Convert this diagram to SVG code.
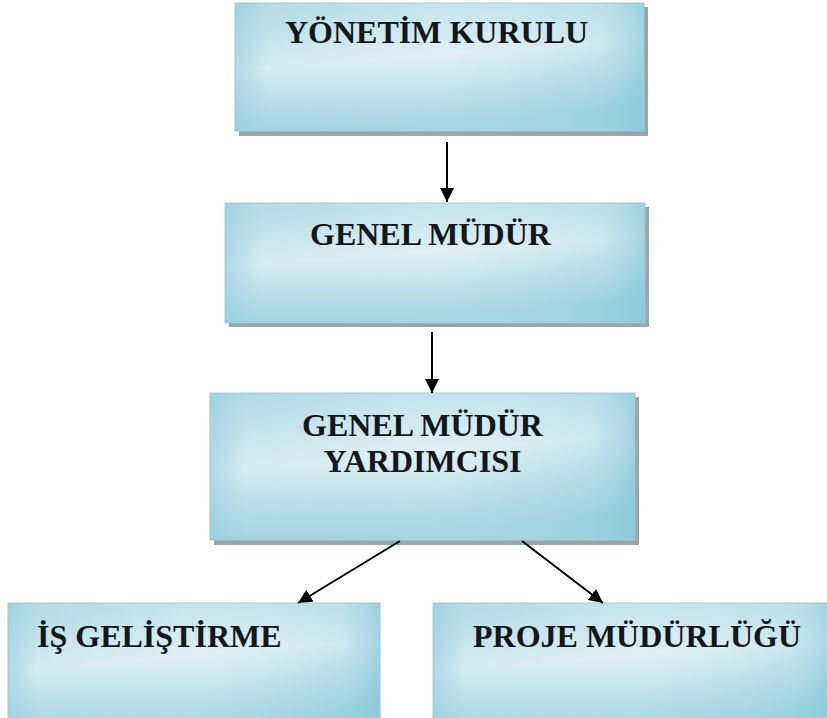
<svg xmlns="http://www.w3.org/2000/svg" width="827" height="718" viewBox="0 0 827 718">
<style>
  .shadow { fill: #9aa5aa; }
  .box { fill: url(#gv); stroke: #a7c9d3; stroke-width: 1; }
  .over { fill: url(#gh); }
  .label { font-family: "Liberation Serif", "Times New Roman", serif; font-weight: bold; font-size: 32px; fill: #111820; }
  .conn { stroke: #000; stroke-width: 2; fill: none; marker-end: url(#ah); }
</style>
<defs>
  <linearGradient id="gv" x1="0" y1="0" x2="0.25" y2="1">
    <stop offset="0" stop-color="#b4dbe6"/>
    <stop offset="0.5" stop-color="#ddeef3"/>
    <stop offset="1" stop-color="#9fd2df"/>
  </linearGradient>
  <linearGradient id="gh" x1="0" y1="0" x2="1" y2="0">
    <stop offset="0" stop-color="#8ecbdb" stop-opacity="0.55"/>
    <stop offset="0.08" stop-color="#8ecbdb" stop-opacity="0.1"/>
    <stop offset="0.5" stop-color="#ffffff" stop-opacity="0.1"/>
    <stop offset="0.9" stop-color="#8ecbdb" stop-opacity="0.2"/>
    <stop offset="1" stop-color="#7fc3d6" stop-opacity="0.6"/>
  </linearGradient>
  <marker id="ah" markerUnits="userSpaceOnUse" markerWidth="14" markerHeight="14" refX="14" refY="7" orient="auto">
    <path d="M0,0 L14,7 L0,14 z" fill="#000"/>
  </marker>
</defs>
<g id="node-yonetim">
  <rect class="shadow" x="239" y="7" width="409" height="129"/>
  <rect class="box" x="235" y="3" width="409" height="128"/>
  <rect class="over" x="235" y="3" width="409" height="128"/>
  <text class="label" x="285" y="43">YÖNETİM KURULU</text>
</g>
<g id="node-genel">
  <rect class="shadow" x="229" y="207" width="420" height="120"/>
  <rect class="box" x="225" y="203" width="420" height="120"/>
  <rect class="over" x="225" y="203" width="420" height="120"/>
  <text class="label" x="310" y="245">GENEL MÜDÜR</text>
</g>
<g id="node-yardimci">
  <rect class="shadow" x="214" y="397" width="425" height="148"/>
  <rect class="box" x="210" y="393" width="425" height="147"/>
  <rect class="over" x="210" y="393" width="425" height="147"/>
  <text class="label" x="422.5" y="436" text-anchor="middle">GENEL MÜDÜR</text>
  <text class="label" x="422.5" y="472" text-anchor="middle">YARDIMCISI</text>
</g>
<g id="node-is">
  <rect class="box" x="8" y="603" width="372" height="130"/>
  <rect class="over" x="8" y="603" width="372" height="130"/>
  <text class="label" x="37" y="647">İŞ GELİŞTİRME</text>
</g>
<g id="node-proje">
  <rect class="box" x="433" y="603" width="400" height="130"/>
  <rect class="over" x="433" y="603" width="400" height="130"/>
  <text class="label" x="473" y="647">PROJE MÜDÜRLÜĞÜ</text>
</g>
<g id="connectors">
  <line class="conn" x1="447" y1="142" x2="447" y2="202"/>
  <line class="conn" x1="432" y1="332" x2="432" y2="393"/>
  <line class="conn" x1="400" y1="541" x2="298" y2="603"/>
  <line class="conn" x1="522" y1="541" x2="603" y2="603"/>
</g>
</svg>
